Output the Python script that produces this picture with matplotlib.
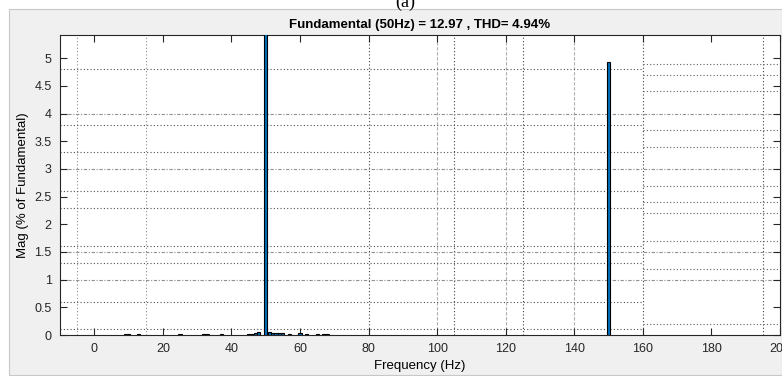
import numpy as np
import matplotlib.pyplot as plt

# harmonic spectrum (% of fundamental)
freqs = [9, 10, 13, 25, 32, 33, 37, 45, 46, 47, 48, 50, 51, 52, 53, 54, 55, 57, 60, 62, 65, 67, 68, 150]
mags = [0.02, 0.02, 0.02, 0.02, 0.02, 0.02, 0.02, 0.02, 0.02, 0.03, 0.06, 100.0,
        0.05, 0.03, 0.03, 0.03, 0.03, 0.02, 0.03, 0.02, 0.02, 0.02, 0.02, 4.94]
title = "Fundamental (50Hz) = 12.97 , THD= 4.94%"
xticks = np.arange(0, 201, 20)
yticks = np.arange(0, 5.01, 0.5)
ytick_labels = ["0", "0.5", "1", "1.5", "2", "2.5", "3", "3.5", "4", "4.5", "5"]

# the (messy, overlapping) grid seen in the screenshot
vgrid_dark = [80, 105, 125, 160, 195]
vgrid_light = [-5, 15]
vgrid_dashed = [100, 120, 140]
hgrid_full = [1.0, 1.5, 3.0, 4.0]
hgrid_left = [0.1, 0.6, 1.3, 1.6, 2.3, 2.6, 3.3, 3.8, 4.8]
hgrid_right = [0.2, 1.2, 1.7, 2.2, 2.4, 2.7, 3.4, 3.7, 4.4, 4.7, 4.9]
split_x = 160


def main():
    plt.rcParams["font.family"] = ["Liberation Sans", "DejaVu Sans"]
    fig = plt.figure(figsize=(7.82, 3.76), dpi=100)
    fig.patch.set_facecolor("white")

    # grey matlab figure panel
    panel = plt.Rectangle((9 / 782, 1 - 375 / 376), 773 / 782, 366 / 376,
                          transform=fig.transFigure, facecolor="#f0f0f0",
                          edgecolor="#c8c8c8", lw=0.8, zorder=-5)
    fig.add_artist(panel)
    fig.text(395 / 782, 1 - 2 / 376, "(a)", family="Liberation Serif",
             fontsize=13, ha="left", va="center")

    ax = fig.add_axes([60 / 782, 1 - 335 / 376, 720 / 782, 300 / 376])
    ax.set_zorder(2)
    ax.set_facecolor("white")
    xmin, xmax = -10, 199.5

    dot = (0, (1, 2))
    for x in vgrid_dark:
        ax.axvline(x, ls=dot, color="#404040", lw=0.8, zorder=1)
    for x in vgrid_light:
        ax.axvline(x, ls=dot, color="#909090", lw=0.8, zorder=1)
    for x in vgrid_dashed:
        ax.axvline(x, ls=(0, (3, 1.5)), color="#b0b0b0", lw=0.8, zorder=1)
    for y in hgrid_full:
        ax.axhline(y, ls=(0, (3, 1.5, 1, 1.5)), color="#909090", lw=0.8, zorder=1)
    for y in hgrid_left:
        ax.hlines(y, xmin, split_x, ls=dot, color="#505050", lw=0.8, zorder=1)
    for y in hgrid_right:
        ax.hlines(y, split_x, xmax, ls=dot, color="#606060", lw=0.8, zorder=1)

    ax.bar(freqs, mags, width=0.9, color="#0072bd", edgecolor="black",
           linewidth=0.8, zorder=3)
    ax.set_xlim(xmin, xmax)
    ax.set_ylim(0, 5.42)
    ax.set_xticks(xticks)
    ax.set_yticks(yticks)
    ax.set_yticklabels(ytick_labels)
    ax.tick_params(direction="in", top=True, right=True, length=5,
                   labelsize=9, colors="#262626", pad=6)
    for s in ax.spines.values():
        s.set_color("#262626")
        s.set_linewidth(0.8)
    ax.set_title(title, fontsize=9.5, fontweight="bold", pad=5)
    ax.set_xlabel("Frequency (Hz)", fontsize=9.5, labelpad=3)
    ax.set_ylabel("Mag (% of Fundamental)", fontsize=9.5, labelpad=4)

    fig.savefig("out.png", dpi=100, facecolor=fig.get_facecolor())


if __name__ == "__main__":
    main()
